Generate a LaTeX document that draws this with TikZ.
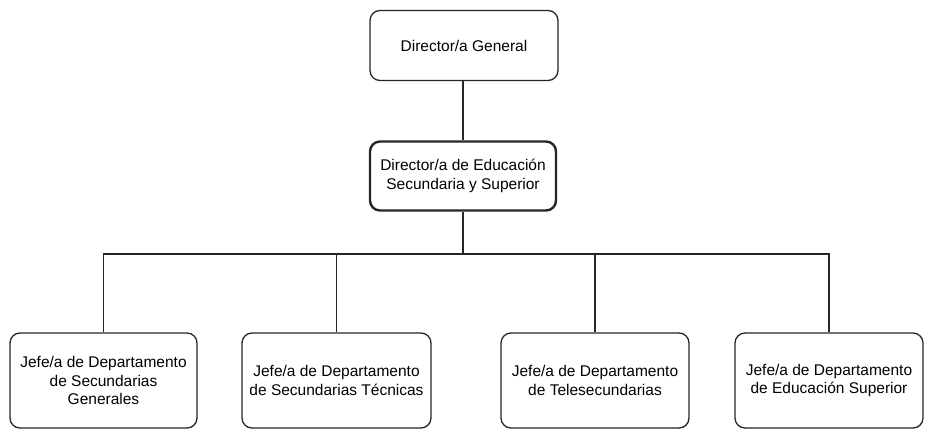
\documentclass[tikz,border=0pt]{standalone}
\usepackage{fontspec}
\setmainfont{Liberation Sans}
\begin{document}
\begin{tikzpicture}[x=1pt,y=-1pt,
  box/.style={draw=black!85, line width=1.3pt, rounded corners=10pt, align=center,
    font=\fontsize{15.5}{18.5}\selectfont, inner sep=0pt, fill=white},
  boldbox/.style={box, line width=2.4pt},
  conn/.style={draw=black!85, line width=1.3pt}]
\useasboundingbox (0,0) rectangle (933,434);
\node[box, minimum width=188pt, minimum height=70pt] (dg) at (464,45.5) {Director/a General};
\node[boldbox, minimum width=186pt, minimum height=69pt] (des) at (463,176) {Director/a de Educación\\Secundaria y Superior};
\node[box, minimum width=187pt, minimum height=95pt] (j1) at (103.5,380.5) {Jefe/a de Departamento\\de Secundarias\\Generales};
\node[box, minimum width=189pt, minimum height=95pt] (j2) at (336.5,380.5) {Jefe/a de Departamento\\de Secundarias Técnicas};
\node[box, minimum width=188pt, minimum height=95pt] (j3) at (595,380.5) {Jefe/a de Departamento\\de Telesecundarias};
\node[box, minimum width=188pt, minimum height=95pt] (j4) at (829,380.5) {Jefe/a de Departamento\\de Educación Superior};
\coordinate (hub) at (463,254);
\draw[conn] (dg.south -| des.north) -- (des.north);
\draw[conn] (des.south) -- (hub);
\foreach \j in {j1,j2,j3,j4}{
  \draw[conn] (hub) -| (\j.north);
}
\end{tikzpicture}
\end{document}
